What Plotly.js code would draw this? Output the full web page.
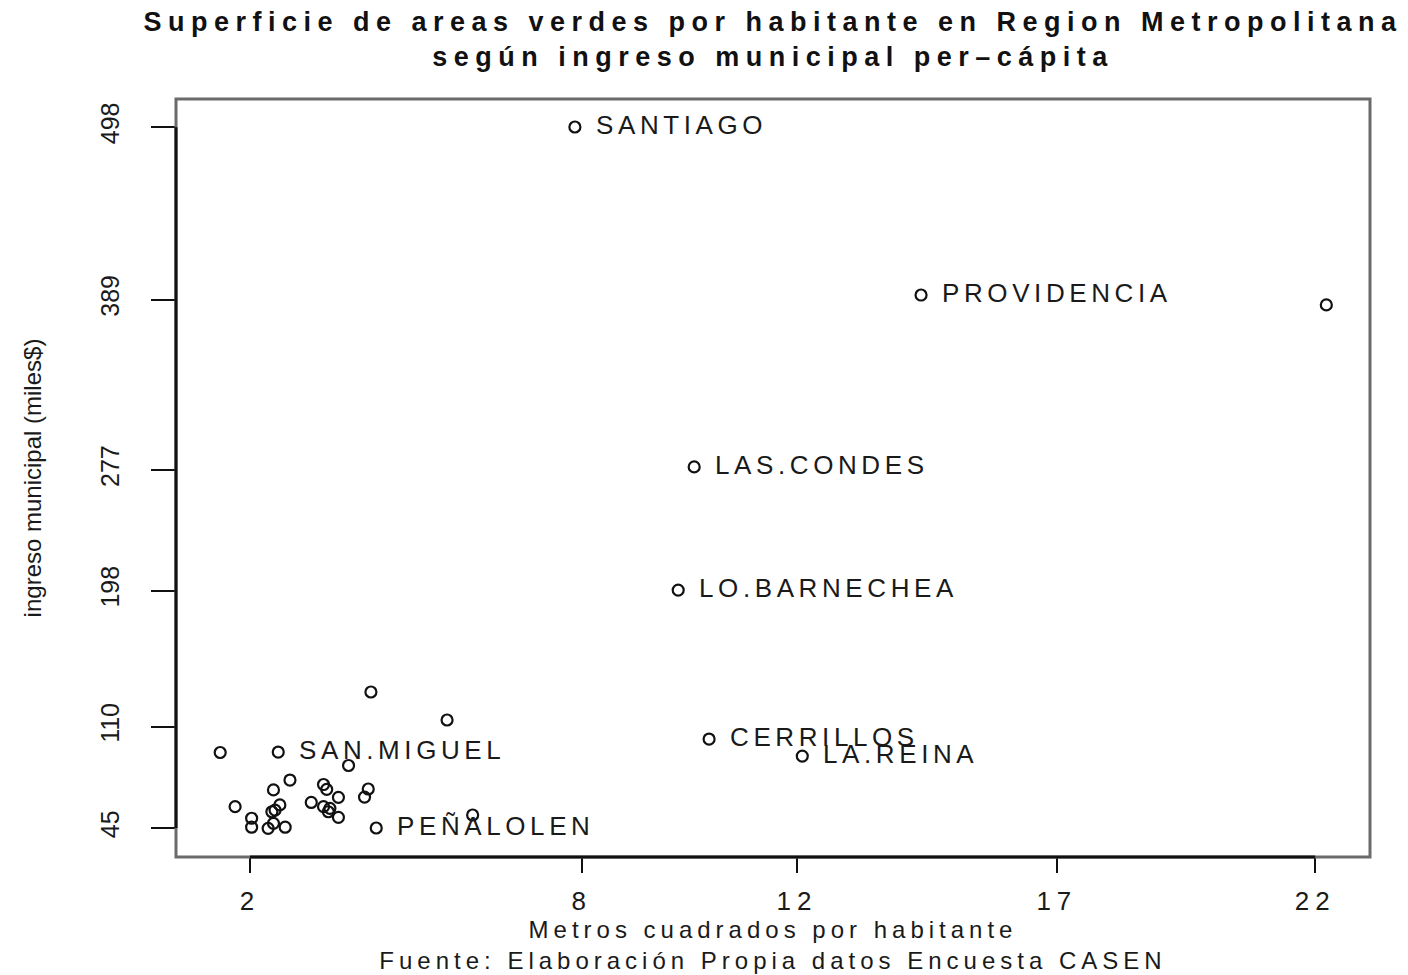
<!DOCTYPE html>
<html>
<head>
<meta charset="utf-8">
<script src="https://cdn.plot.ly/plotly-3.0.1.min.js"></script>
<style>
  html, body { margin: 0; padding: 0; background: #fff; }
  #chart { width: 1408px; height: 975px; }
  .gtitle { letter-spacing: 6.5px; }
  .xtick text { letter-spacing: 6px; }
  .g-xtitle text { letter-spacing: 5px; }
  .annotation-text { letter-spacing: 4.6px; }
</style>
</head>
<body>
<div id="chart"></div>
<script>
// Comunas (blank = point drawn without label)
const comunas = ['SANTIAGO','PROVIDENCIA','','LAS.CONDES','LO.BARNECHEA','CERRILLOS','LA.REINA','SAN.MIGUEL','PEÑALOLEN',
  '','','','','','','','','','','','','','','','','','','','','','','','','',''];
// Metros cuadrados de areas verdes por habitante
const m2 = [8.10, 14.60, 22.21, 10.34, 10.04, 10.62, 12.37, 2.53, 4.37,
  4.27, 5.70, 1.44, 3.85, 2.75, 2.44, 3.38, 3.44, 3.66, 4.22, 4.15, 1.72, 2.56,
  2.47, 2.41, 3.15, 3.38, 3.50, 3.47, 3.66, 2.03, 2.03, 2.34, 2.44, 2.66, 6.18];
// Ingreso municipal per-capita (miles$)
const ingreso = [498.1, 389.5, 383.1, 278.4, 198.8, 102.5, 91.5, 94.1, 45.0,
  132.9, 114.8, 93.8, 85.4, 76.0, 69.6, 73.1, 70.0, 64.8, 70.2, 65.0, 58.8, 59.9,
  56.6, 55.5, 61.5, 58.8, 57.7, 55.5, 51.9, 51.3, 45.5, 44.8, 48.0, 45.5, 53.4];

// Axis ticks (R axis at data quantiles, labels rounded)
const xTickVals = [2, 8.23, 12.27, 17.15, 22];
const xTickText = ['2', '8', '12', '17', '22'];
const yTickVals = [45, 110.5, 198.5, 276.5, 386.5, 498];
const yTickText = ['45', '110', '198', '277', '389', '498'];

const FONT = '"Liberation Sans", Arial, Helvetica, sans-serif';

const trace = {
  type: 'scatter',
  mode: 'markers',
  x: m2,
  y: ingreso,
  marker: { symbol: 'circle-open', size: 11, color: '#111', line: { width: 2.2, color: '#111' } },
  hoverinfo: 'x+y+text',
  text: comunas,
  showlegend: false
};

const annotations = [];
comunas.forEach((c, i) => {
  if (c) {
    annotations.push({
      x: m2[i], y: ingreso[i], xref: 'x', yref: 'y',
      text: c, showarrow: false, xanchor: 'left', yanchor: 'middle',
      xshift: 19, yshift: 2,
      font: { family: FONT, size: 26, color: '#1a1a1a' }
    });
  }
});

const shapes = [
  { type: 'rect', xref: 'paper', yref: 'paper', x0: 0, x1: 1, y0: 0, y1: 1,
    line: { color: '#6b6b6b', width: 3 } },
  { type: 'line', xref: 'x', yref: 'paper', x0: xTickVals[0], x1: xTickVals[xTickVals.length - 1], y0: 0, y1: 0,
    line: { color: '#111', width: 3 } },
  { type: 'line', xref: 'paper', yref: 'y', x0: 0, x1: 0, y0: yTickVals[0], y1: yTickVals[yTickVals.length - 1],
    line: { color: '#111', width: 3 } }
];

const layout = {
  width: 1408, height: 975,
  paper_bgcolor: '#fff', plot_bgcolor: '#fff',
  font: { family: FONT, color: '#1a1a1a' },
  margin: { l: 176, r: 38, t: 99, b: 118 },
  title: {
    text: '<b>Superficie de areas verdes por habitante en Region Metropolitana<br>según ingreso municipal per\u2013cápita</b>',
    font: { family: FONT, size: 27, color: '#111' },
    x: 0.5, xref: 'paper', xanchor: 'center',
    y: 0.968, yref: 'container', yanchor: 'top'
  },
  xaxis: {
    range: [0.61, 23.03],
    tickmode: 'array', tickvals: xTickVals, ticktext: xTickText,
    ticks: 'outside', ticklen: 15, tickwidth: 2, tickcolor: '#111',
    ticklabelstandoff: 6,
    showgrid: false, zeroline: false, showline: false,
    tickfont: { family: FONT, size: 26, color: '#1a1a1a' },
    title: {
      text: 'Metros cuadrados por habitante<br>Fuente: Elaboración Propia datos Encuesta CASEN',
      font: { family: FONT, size: 24, color: '#1a1a1a' },
      standoff: 4
    }
  },
  yaxis: {
    range: [26.25, 516.2],
    tickmode: 'array', tickvals: yTickVals, ticktext: yTickText,
    ticks: 'outside', ticklen: 24, tickwidth: 2, tickcolor: '#111',
    tickangle: -90,
    ticklabelstandoff: 22,
    showgrid: false, zeroline: false, showline: false,
    tickfont: { family: FONT, size: 25, color: '#1a1a1a' },
    title: {
      text: 'ingreso municipal (miles$)',
      font: { family: FONT, size: 24, color: '#1a1a1a' },
      standoff: 47
    }
  },
  shapes: shapes,
  annotations: annotations
};

Plotly.newPlot('chart', [trace], layout, { displayModeBar: false, staticPlot: true });
</script>
</body>
</html>
